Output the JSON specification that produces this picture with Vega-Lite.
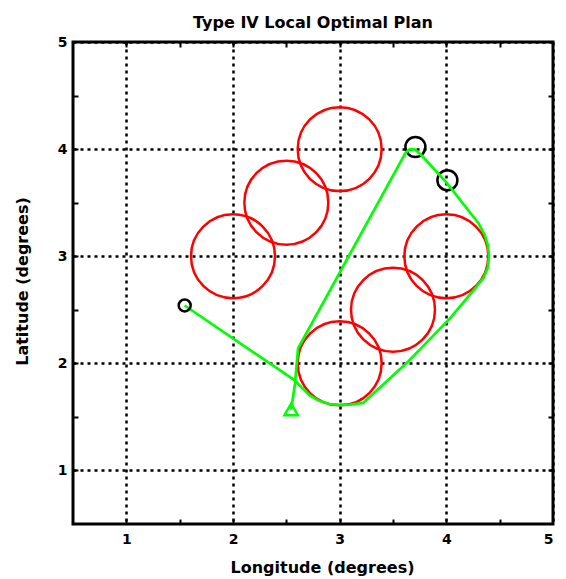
{
  "$schema": "https://vega.github.io/schema/vega-lite/v6.json",
  "width": 480,
  "height": 482,
  "autosize": {"type": "none"},
  "padding": {"left": 73, "top": 42, "right": 13, "bottom": 55},
  "background": "white",
  "title": {
    "text": "Type IV Local Optimal Plan",
    "font": "DejaVu Sans",
    "fontSize": 16,
    "fontWeight": "bold",
    "color": "black",
    "frame": "group",
    "anchor": "middle",
    "offset": 4
  },
  "config": {
    "view": {"stroke": "black", "strokeWidth": 3},
    "axis": {
      "domain": false,
      "labelFont": "DejaVu Sans",
      "labelFontWeight": "bold",
      "labelFontSize": 14,
      "labelColor": "black",
      "titleFont": "DejaVu Sans",
      "titleFontWeight": "bold",
      "titleFontSize": 16,
      "titleColor": "black"
    }
  },
  "datasets": {
    "zones": [
      {"lon": 3.0, "lat": 4.0},
      {"lon": 2.5, "lat": 3.5},
      {"lon": 2.0, "lat": 3.0},
      {"lon": 4.0, "lat": 3.0},
      {"lon": 3.5, "lat": 2.5},
      {"lon": 3.0, "lat": 2.0}
    ],
    "waypoints": [
      {"lon": 3.71, "lat": 4.02},
      {"lon": 4.01, "lat": 3.71}
    ],
    "start": [{"lon": 1.547, "lat": 2.54}],
    "goal": [{"lon": 2.545, "lat": 1.57}],
    "route": [
      {"step": 1, "lon": 1.547, "lat": 2.54},
      {"step": 2, "lon": 2.58, "lat": 1.84},
      {"step": 3, "lon": 2.656, "lat": 1.762},
      {"step": 4, "lon": 2.72, "lat": 1.7},
      {"step": 5, "lon": 2.81, "lat": 1.65},
      {"step": 6, "lon": 2.9, "lat": 1.62},
      {"step": 7, "lon": 3.0, "lat": 1.612},
      {"step": 8, "lon": 3.1, "lat": 1.615},
      {"step": 9, "lon": 3.22, "lat": 1.63},
      {"step": 10, "lon": 3.625, "lat": 2.0},
      {"step": 11, "lon": 4.03, "lat": 2.415},
      {"step": 12, "lon": 4.27, "lat": 2.7},
      {"step": 13, "lon": 4.35, "lat": 2.8},
      {"step": 14, "lon": 4.39, "lat": 2.9},
      {"step": 15, "lon": 4.4, "lat": 3.0},
      {"step": 16, "lon": 4.39, "lat": 3.1},
      {"step": 17, "lon": 4.36, "lat": 3.2},
      {"step": 18, "lon": 4.3, "lat": 3.31},
      {"step": 19, "lon": 4.0, "lat": 3.69},
      {"step": 20, "lon": 3.76, "lat": 3.95},
      {"step": 21, "lon": 3.71, "lat": 3.995},
      {"step": 22, "lon": 3.66, "lat": 4.0},
      {"step": 23, "lon": 3.62, "lat": 3.97},
      {"step": 24, "lon": 2.61, "lat": 2.14},
      {"step": 25, "lon": 2.58, "lat": 1.8},
      {"step": 26, "lon": 2.545, "lat": 1.57}
    ]
  },
  "resolve": {"axis": {"x": "independent", "y": "independent"}},
  "layer": [
    {
      "data": {"name": "zones"},
      "mark": {"type": "point", "shape": "circle", "filled": false, "size": 7050, "stroke": "#ff0000", "strokeWidth": 2.5, "opacity": 1},
      "encoding": {
        "x": {
          "field": "lon", "type": "quantitative",
          "scale": {"domain": [0.5, 5], "nice": false, "zero": false},
          "axis": {
            "orient": "bottom", "values": [1, 2, 3, 4, 5], "format": "d",
            "ticks": false, "labelPadding": 8,
            "grid": true, "gridColor": "black", "gridDash": [3, 4], "gridWidth": 2.5, "gridOpacity": 1,
            "title": "Longitude (degrees)", "titleX": 249, "titleY": 48, "titleBaseline": "alphabetic", "titleAlign": "center"
          }
        },
        "y": {
          "field": "lat", "type": "quantitative",
          "scale": {"domain": [0.5, 5], "nice": false, "zero": false},
          "axis": {
            "orient": "left", "values": [1, 2, 3, 4, 5], "format": "d",
            "ticks": false, "labelPadding": 6,
            "grid": true, "gridColor": "black", "gridDash": [3, 4], "gridWidth": 2.5, "gridOpacity": 1,
            "title": "Latitude (degrees)", "titleX": -46, "titleY": 239, "titleAngle": -90, "titleBaseline": "alphabetic", "titleAlign": "center"
          }
        }
      }
    },
    {
      "data": {"name": "waypoints"},
      "mark": {"type": "point", "shape": "circle", "filled": false, "size": 400, "stroke": "black", "strokeWidth": 2.5, "opacity": 1},
      "encoding": {
        "x": {
          "field": "lon", "type": "quantitative",
          "axis": {"orient": "bottom", "values": [1, 1.5, 2, 2.5, 3, 3.5, 4, 4.5], "labels": false, "grid": false, "tickSize": -5, "tickWidth": 2, "tickColor": "black", "title": null}
        },
        "y": {
          "field": "lat", "type": "quantitative",
          "axis": {"orient": "left", "values": [1, 1.5, 2, 2.5, 3, 3.5, 4, 4.5], "labels": false, "grid": false, "tickSize": -5, "tickWidth": 2, "tickColor": "black", "title": null}
        }
      }
    },
    {
      "data": {"name": "route"},
      "mark": {"type": "line", "stroke": "#00ff00", "strokeWidth": 2.7, "strokeJoin": "round", "interpolate": "linear"},
      "encoding": {
        "x": {
          "field": "lon", "type": "quantitative",
          "axis": {"orient": "top", "values": [1, 1.5, 2, 2.5, 3, 3.5, 4, 4.5], "labels": false, "grid": false, "tickSize": -5, "tickWidth": 2, "tickColor": "black", "title": null}
        },
        "y": {
          "field": "lat", "type": "quantitative",
          "axis": {"orient": "right", "values": [1, 1.5, 2, 2.5, 3, 3.5, 4, 4.5], "labels": false, "grid": false, "tickSize": -5, "tickWidth": 2, "tickColor": "black", "title": null}
        },
        "order": {"field": "step", "type": "quantitative"}
      }
    },
    {
      "data": {"name": "start"},
      "mark": {"type": "point", "shape": "circle", "filled": false, "size": 144, "stroke": "black", "strokeWidth": 2.5, "opacity": 1},
      "encoding": {
        "x": {"field": "lon", "type": "quantitative", "axis": null},
        "y": {"field": "lat", "type": "quantitative", "axis": null}
      }
    },
    {
      "data": {"name": "goal"},
      "mark": {"type": "point", "shape": "triangle-up", "filled": false, "size": 180, "stroke": "#00ff00", "strokeWidth": 2.5, "opacity": 1},
      "encoding": {
        "x": {"field": "lon", "type": "quantitative", "axis": null},
        "y": {"field": "lat", "type": "quantitative", "axis": null}
      }
    }
  ]
}
